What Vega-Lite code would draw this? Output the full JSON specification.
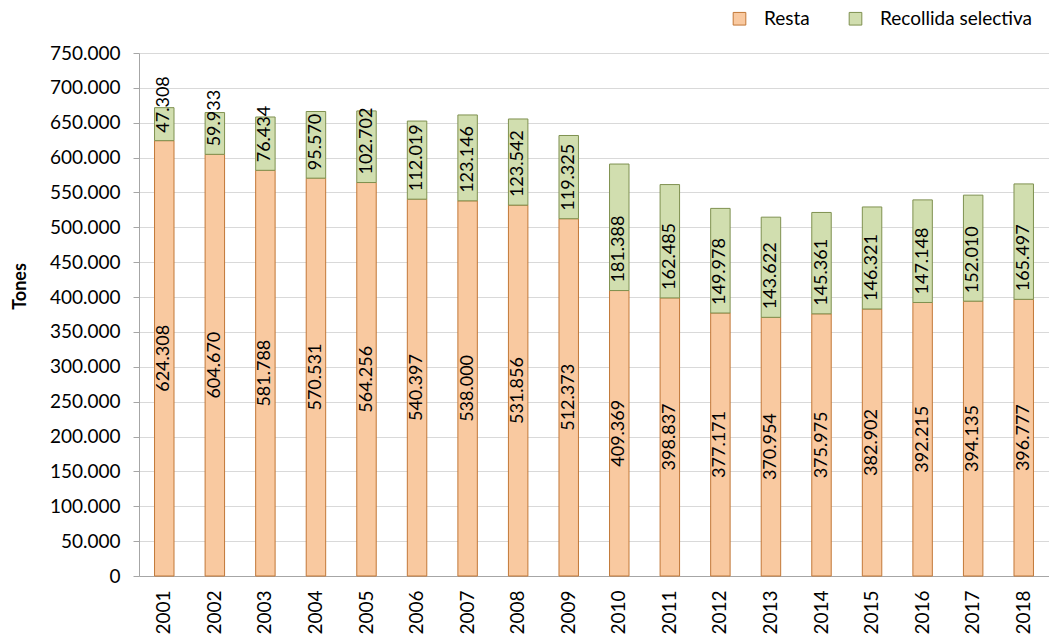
{
  "$schema": "https://vega.github.io/schema/vega-lite/v6.json",
  "width": 910,
  "height": 523,
  "autosize": "none",
  "padding": {"left": 139, "top": 53, "right": 0, "bottom": 61},
  "config": {
    "locale": {"number": {"decimal": ",", "thousands": ".", "grouping": [3], "currency": ["", " €"]}},
    "font": "Lato",
    "view": {"stroke": null},
    "axis": {"labelFont": "Lato", "labelFontSize": 19, "labelColor": "#000000", "domainColor": "#A6A6A6", "tickColor": "#A6A6A6"},
    "axisY": {
      "values": [0, 50000, 100000, 150000, 200000, 250000, 300000, 350000, 400000, 450000, 500000, 550000, 600000, 650000, 700000, 750000],
      "format": ",d", "grid": true, "gridColor": "#D9D9D9", "gridWidth": 1,
      "labelOverlap": false, "labelBound": false, "labelFlush": false,
      "tickSize": 6, "labelPadding": 13,
      "titleFontSize": 18, "titleFontWeight": "bold", "titleColor": "#000000",
      "titleAngle": 270, "titleX": -119, "titleY": 233, "titleAlign": "center", "titleBaseline": "middle"
    }
  },
  "data": {
    "values": [
      {"year": "2001", "Resta": 624308, "Recollida selectiva": 47308},
      {"year": "2002", "Resta": 604670, "Recollida selectiva": 59933},
      {"year": "2003", "Resta": 581788, "Recollida selectiva": 76434},
      {"year": "2004", "Resta": 570531, "Recollida selectiva": 95570},
      {"year": "2005", "Resta": 564256, "Recollida selectiva": 102702},
      {"year": "2006", "Resta": 540397, "Recollida selectiva": 112019},
      {"year": "2007", "Resta": 538000, "Recollida selectiva": 123146},
      {"year": "2008", "Resta": 531856, "Recollida selectiva": 123542},
      {"year": "2009", "Resta": 512373, "Recollida selectiva": 119325},
      {"year": "2010", "Resta": 409369, "Recollida selectiva": 181388},
      {"year": "2011", "Resta": 398837, "Recollida selectiva": 162485},
      {"year": "2012", "Resta": 377171, "Recollida selectiva": 149978},
      {"year": "2013", "Resta": 370954, "Recollida selectiva": 143622},
      {"year": "2014", "Resta": 375975, "Recollida selectiva": 145361},
      {"year": "2015", "Resta": 382902, "Recollida selectiva": 146321},
      {"year": "2016", "Resta": 392215, "Recollida selectiva": 147148},
      {"year": "2017", "Resta": 394135, "Recollida selectiva": 152010},
      {"year": "2018", "Resta": 396777, "Recollida selectiva": 165497}
    ]
  },
  "encoding": {
    "x": {
      "field": "year", "type": "nominal", "title": null,
      "scale": {"paddingInner": 0.615, "paddingOuter": 0.3075},
      "axis": {"labelAngle": 270, "ticks": false, "tickSize": 0, "labelPadding": 14, "grid": false, "domainWidth": 1}
    }
  },
  "layer": [
    {
      "transform": [{"fold": ["Resta", "Recollida selectiva"], "as": ["serie", "value"]}],
      "mark": {"type": "bar", "strokeWidth": 1},
      "encoding": {
        "y": {
          "field": "value", "type": "quantitative", "stack": "zero", "title": "Tones",
          "scale": {"domain": [0, 750000], "nice": false}
        },
        "fill": {
          "field": "serie", "type": "nominal",
          "scale": {"domain": ["Resta", "Recollida selectiva"], "range": ["#F9C9A0", "#D1DEAF"]},
          "legend": {
            "title": null, "orient": "none", "legendX": 591, "legendY": -44, "direction": "horizontal",
            "symbolType": "square", "symbolSize": 160, "symbolStrokeWidth": 1,
            "labelFontSize": 19, "labelFont": "Lato", "labelColor": "#000000", "labelOffset": 15,
            "columnPadding": 36, "padding": 0
          }
        },
        "stroke": {
          "field": "serie", "type": "nominal",
          "scale": {"domain": ["Resta", "Recollida selectiva"], "range": ["#C27838", "#7F9150"]},
          "legend": {
            "title": null, "orient": "none", "legendX": 591, "legendY": -44, "direction": "horizontal",
            "symbolType": "square", "symbolSize": 160, "symbolStrokeWidth": 1,
            "labelFontSize": 19, "labelFont": "Lato", "labelColor": "#000000", "labelOffset": 15,
            "columnPadding": 36, "padding": 0
          }
        },
        "order": {"field": "serie", "sort": "descending"}
      }
    },
    {
      "transform": [{"calculate": "datum.Resta / 2", "as": "mid"}],
      "mark": {"type": "text", "angle": 270, "align": "center", "baseline": "middle", "fontSize": 18, "font": "Lato", "color": "#000000"},
      "encoding": {
        "y": {"field": "mid", "type": "quantitative", "title": "Tones"},
        "text": {"field": "Resta", "type": "quantitative", "format": ",d"}
      }
    },
    {
      "mark": {"type": "text", "angle": 270, "align": "left", "baseline": "middle", "dx": 8, "fontSize": 18, "font": "Lato", "color": "#000000"},
      "encoding": {
        "y": {"field": "Resta", "type": "quantitative", "title": "Tones"},
        "text": {"field": "Recollida selectiva", "type": "quantitative", "format": ",d"}
      }
    }
  ]
}
